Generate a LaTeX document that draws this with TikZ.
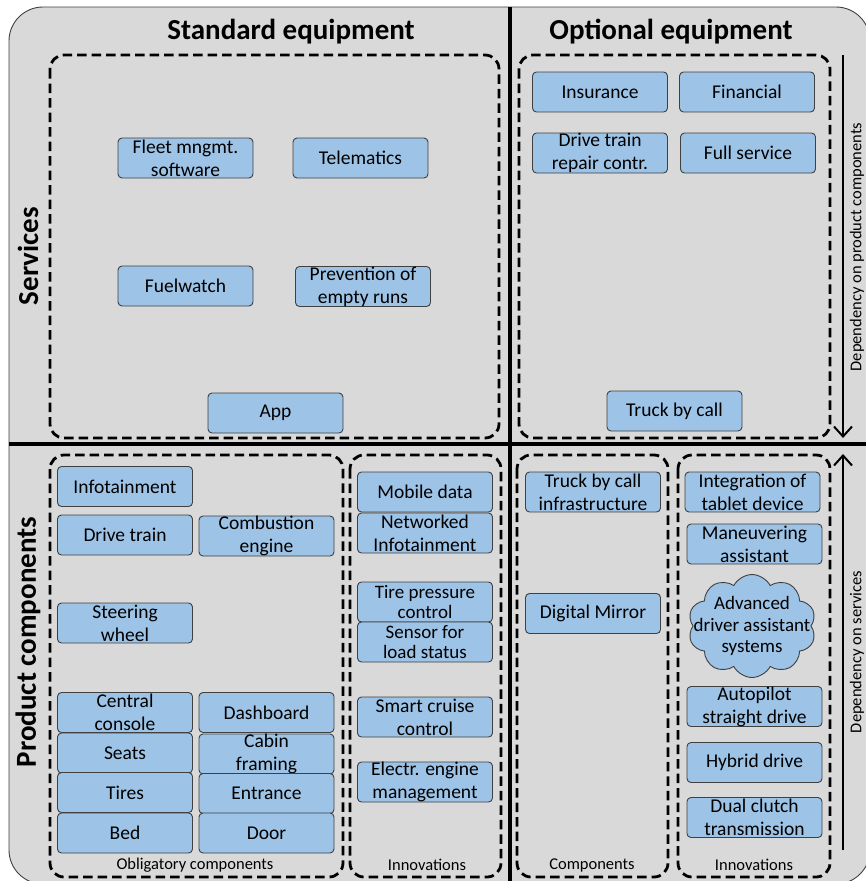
\documentclass[tikz,border=0pt]{standalone}
\usepackage{fontspec}
\setmainfont{Carlito}
\usetikzlibrary{shapes.symbols,arrows.meta}
\definecolor{panel}{HTML}{D9D9D9}
\definecolor{itemblue}{HTML}{9DC3E6}
\definecolor{itemline}{HTML}{404040}

\begin{document}
\begin{tikzpicture}[x=1pt,y=-1pt,
  item/.style={draw=itemline, line width=0.9pt, fill=itemblue, rounded corners=4pt,
    minimum width=135pt, minimum height=40pt, inner sep=0pt, align=center,
    font=\fontsize{19.5}{23}\selectfont},
  tight/.style={font=\fontsize{19}{20}\selectfont},
  group/.style={draw=black, line width=2.8pt, dash pattern=on 9.5pt off 5pt, rounded corners=14pt},
  heading/.style={font=\fontsize{29}{34}\selectfont\bfseries},
  note/.style={font=\fontsize{16.5}{19}\selectfont},
  divider/.style={line width=4pt},
  dep/.style={line width=2pt, -{Straight Barb[length=10pt,width=18pt]}}]

\useasboundingbox (0,0) rectangle (866,881);
\clip (0,0) rectangle (866,881);

% panel
\draw[fill=panel, draw=itemline, line width=0.9pt, rounded corners=34pt] (9,7) rectangle (870,884);

% quadrant dividers
\coordinate (vtop) at (510,7);
\coordinate (vbot) at (510,881);
\coordinate (hleft) at (9,444);
\coordinate (hright) at (866,444);
\draw[divider] (vtop) -- (vbot);
\draw[divider] (hleft) -- (hright);

% headings
\node[heading] (hstd) at (291,32) {Standard equipment};
\node[heading] (hopt) at (671,32) {Optional equipment};
\node[heading, rotate=90] (hserv) at (28,256) {Services};
\node[heading, rotate=90] (hprod) at (28,642) {Product components};

% dashed groups
\draw[group] (50,55) rectangle (499,438);
\draw[group] (519,55) rectangle (830,438);
\draw[group] (50,455) rectangle (343,877);
\draw[group] (350,455) rectangle (501,877);
\draw[group] (517,455) rectangle (668,877);
\draw[group] (678,455) rectangle (830,877);

% group captions
\node[note] (cobl) at (195,865) {Obligatory components};
\node[note] (cinn1) at (427,865) {Innovations};
\node[note] (ccomp) at (592,865) {Components};
\node[note] (cinn2) at (754,865) {Innovations};

% standard services
\node[item] (fleet) at (185.5,158) {Fleet mngmt.\\software};
\node[item] (telem) at (360.5,158) {Telematics};
\node[item] (fuel) at (185.5,286) {Fuelwatch};
\node[item] (prevent) at (363,286.5) {Prevention of\\empty runs};
\node[item] (app) at (275.5,413) {App};

% optional services
\node[item] (insur) at (600,92) {Insurance};
\node[item] (finan) at (747,92) {Financial};
\node[item] (repair) at (600,153) {Drive train\\repair contr.};
\node[item] (fullserv) at (748,153) {Full service};
\node[item] (tbc) at (674.5,411) {Truck by call};

% obligatory components
\node[item] (infot) at (125,486.5) {Infotainment};
\node[item] (dtrain) at (125,535) {Drive train};
\node[item] (combust) at (266.5,536) {Combustion\\engine};
\node[item] (steer) at (125,623) {Steering\\wheel};
\node[item] (central) at (125,712.5) {Central\\console};
\node[item] (dashb) at (266.5,712.5) {Dashboard};
\node[item] (seats) at (125,753) {Seats};
\node[item] (cabin) at (266.5,754) {Cabin\\framing};
\node[item] (tires) at (125,792.5) {Tires};
\node[item] (entr) at (266.5,793.5) {Entrance};
\node[item] (bed) at (125,833) {Bed};
\node[item] (door) at (266.5,833) {Door};

% standard innovations
\node[item] (mobile) at (425,492) {Mobile data};
\node[item] (netinfo) at (425,533) {Networked\\Infotainment};
\node[item, tight] (tirep) at (425,602) {Tire pressure\\control};
\node[item, tight] (sensor) at (425,642) {Sensor for\\load status};
\node[item] (cruise) at (425,717) {Smart cruise\\control};
\node[item] (electr) at (425,782) {Electr. engine\\management};

% optional components
\node[item] (tbcinfra) at (593,492) {Truck by call\\infrastructure};
\node[item] (mirror) at (593,613.5) {Digital Mirror};

% optional innovations
\node[item] (tablet) at (752.5,492) {Integration of\\tablet device};
\node[item] (maneu) at (754.5,544) {Maneuvering\\assistant};
\node[cloud, cloud puffs=10, cloud puff arc=125, draw=itemline, fill=itemblue, line width=0.9pt,
      minimum width=128pt, minimum height=103pt, inner sep=0pt] (adas) at (752,626) {};
\node[align=center, font=\fontsize{19}{21.5}\selectfont] (adastext) at (adas.center) {Advanced\\driver assistant\\systems};
\node[item] (autop) at (754.5,706.5) {Autopilot\\straight drive};
\node[item] (hybrid) at (754.5,762.5) {Hybrid drive};
\node[item] (dualc) at (754.5,817.5) {Dual clutch\\transmission};

% dependency arrows
\coordinate (adown0) at (843,55);
\coordinate (adown1) at (843,438);
\coordinate (aup0) at (843,850);
\coordinate (aup1) at (843,454);
\draw[dep] (adown0) -- (adown1);
\draw[dep] (aup0) -- (aup1);
\node[note, rotate=90] (ldown) at (857,247) {Dependency on product components};
\node[note, rotate=90] (lup) at (857,652) {Dependency on services};
\end{tikzpicture}
\end{document}
